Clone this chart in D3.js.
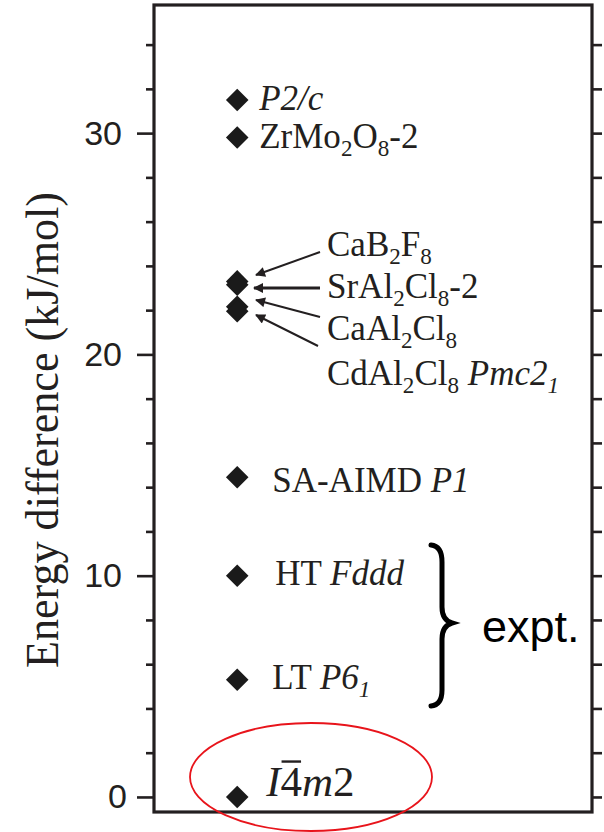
<!DOCTYPE html>
<html>
<head>
<meta charset="utf-8">
<script src="https://cdn.jsdelivr.net/npm/d3@7"></script>
<style>
  html, body { margin: 0; padding: 0; background: #fff; }
  svg { display: block; }
</style>
</head>
<body>
<svg id="chart" width="604" height="832"></svg>
<script>
// Relative energies of candidate structures (kJ/mol)
const structures = ["P2/c", "ZrMo2O8-2", "CaB2F8", "SrAl2Cl8-2", "CaAl2Cl8",
                    "CdAl2Cl8 Pmc21", "SA-AIMD P1", "HT Fddd", "LT P61", "I-4m2"];
const energies   = [31.5, 29.8, 23.3, 23.15, 22.15, 21.95, 14.45, 10.0, 5.3, 0];

// Axis ticks
const majorTicks = [0, 10, 20, 30];
const minorTicks = [2, 4, 6, 8, 12, 14, 16, 18, 22, 24, 26, 28, 32, 34];
const tickLabels = ["0", "10", "20", "30"];

// Label text, split into runs: i = italic, s = subscript, bar = overline
const labelRuns = {
  "P2/c":          [{t: "P2/c", i: 1}],
  "ZrMo2O8-2":     [{t: "ZrMo"}, {t: "2", s: 1}, {t: "O"}, {t: "8", s: 1}, {t: "-2"}],
  "CaB2F8":        [{t: "CaB"}, {t: "2", s: 1}, {t: "F"}, {t: "8", s: 1}],
  "SrAl2Cl8-2":    [{t: "SrAl"}, {t: "2", s: 1}, {t: "Cl"}, {t: "8", s: 1}, {t: "-2"}],
  "CaAl2Cl8":      [{t: "CaAl"}, {t: "2", s: 1}, {t: "Cl"}, {t: "8", s: 1}],
  "CdAl2Cl8 Pmc21":[{t: "CdAl"}, {t: "2", s: 1}, {t: "Cl"}, {t: "8", s: 1}, {t: " "}, {t: "Pmc2", i: 1}, {t: "1", i: 1, s: 1}],
  "SA-AIMD P1":    [{t: "SA-AIMD "}, {t: "P1", i: 1}],
  "HT Fddd":       [{t: "HT "}, {t: "Fddd", i: 1}],
  "LT P61":        [{t: "LT "}, {t: "P6", i: 1}, {t: "1", i: 1, s: 1}],
  "I-4m2":         [{t: "I", i: 1}, {t: "4", bar: 1}, {t: "m", i: 1}, {t: "2"}]
};

const SERIF = "'Liberation Serif', 'Times New Roman', Times, serif";
const SANS = "'Liberation Sans', Arial, Helvetica, sans-serif";

const svg = d3.select("#chart");
const ink = "#231f20";

// Plot frame
const frame = {left: 154, right: 592, top: 5, bottom: 812};
const y = d3.scaleLinear().domain([-0.68, 35.79]).range([frame.bottom, frame.top]);
const x = d3.scaleLinear().domain([0, 1]).range([frame.left, frame.right]);
const column = 0.19;   // horizontal slot of the markers

// Left axis: long major ticks with labels, short minor ticks
const leftMajor = d3.axisLeft(y).tickValues(majorTicks).tickSize(17).tickPadding(15)
  .tickFormat((d, i) => tickLabels[i]);
const leftMinor = d3.axisLeft(y).tickValues(minorTicks).tickSize(8).tickFormat("");
const rightAll = d3.axisRight(y).tickValues(majorTicks.concat(minorTicks)).tickSize(10).tickFormat("");

function styleAxis(g) {
  g.select(".domain").remove();
  g.selectAll(".tick line").attr("stroke", ink).attr("stroke-width", 2.6);
}

svg.append("g").attr("transform", `translate(${frame.left},0)`).call(leftMajor).call(styleAxis)
  .attr("font-family", SANS).attr("font-size", 34)
  .selectAll(".tick text")
  .attr("fill", ink)
  .attr("dx", d => d === 0 ? 5 : 0);
svg.append("g").attr("transform", `translate(${frame.left},0)`).call(leftMinor).call(styleAxis);
svg.append("g").attr("transform", `translate(${frame.right},0)`).call(rightAll).call(styleAxis);

svg.append("rect")
  .attr("x", frame.left).attr("y", frame.top)
  .attr("width", frame.right - frame.left).attr("height", frame.bottom - frame.top)
  .attr("fill", "none").attr("stroke", ink).attr("stroke-width", 3.2);

// Axis title
svg.append("text")
  .attr("transform", "translate(58,430) rotate(-90)")
  .attr("text-anchor", "middle")
  .style("font-family", SERIF).style("font-size", "47px")
  .attr("textLength", 476).attr("lengthAdjust", "spacingAndGlyphs")
  .attr("fill", ink)
  .text("Energy difference (kJ/mol)");

// Diamond markers
const data = structures.map((s, i) => ({name: s, e: energies[i]}));
svg.append("g").selectAll("path").data(data).join("path")
  .attr("d", d3.symbol(d3.symbolSquare, 255))
  .attr("transform", d => `translate(${x(column)},${y(d.e)}) rotate(45)`)
  .attr("fill", "#1a1a1a");

// Label placement: offset from the marker (dx, baseline dy) or fixed text column
const labelPos = {
  "P2/c":          {dx: 22, dy: 10},
  "ZrMo2O8-2":     {dx: 22, dy: 10},
  "CaB2F8":        {x: 327, yb: 256},
  "SrAl2Cl8-2":    {x: 327, yb: 298},
  "CaAl2Cl8":      {x: 327, yb: 340},
  "CdAl2Cl8 Pmc21":{x: 327, yb: 385},
  "SA-AIMD P1":    {dx: 35, dy: 15},
  "HT Fddd":       {dx: 38, dy: 9},
  "LT P61":        {dx: 35, dy: 9},
  "I-4m2":         {dx: 29, dy: -1, size: 43}
};

function drawLabel(d) {
  const p = labelPos[d.name];
  const tx = p.x !== undefined ? p.x : x(column) + p.dx;
  const ty = p.yb !== undefined ? p.yb : y(d.e) + p.dy;
  const size = p.size || 35;
  const t = svg.append("text")
    .style("font-family", SERIF)
    .attr("x", tx).attr("y", ty).attr("font-size", size).attr("fill", ink);
  let shifted = false;
  let charIndex = 0, barIndex = -1;
  labelRuns[d.name].forEach(r => {
    const ts = t.append("tspan").text(r.t);
    if (r.i) ts.attr("font-style", "italic");
    if (r.s && !shifted) { ts.attr("dy", size * 0.24); shifted = true; }
    else if (!r.s && shifted) { ts.attr("dy", -size * 0.24); shifted = false; }
    if (r.s) ts.attr("font-size", size * 0.66);
    if (r.bar) barIndex = charIndex;
    charIndex += r.t.length;
  });
  if (barIndex >= 0) {
    const node = t.node();
    const a = node.getStartPositionOfChar(barIndex);
    const b = node.getEndPositionOfChar(barIndex);
    svg.append("line")
      .attr("x1", a.x + 1).attr("x2", b.x - 1)
      .attr("y1", ty - size * 0.8).attr("y2", ty - size * 0.8)
      .attr("stroke", ink).attr("stroke-width", 2.4);
  }
}
data.forEach(drawLabel);

// Arrows from the clustered labels to their markers
svg.append("defs").append("marker")
  .attr("id", "head").attr("viewBox", "0 0 10 10").attr("refX", 9).attr("refY", 5)
  .attr("markerWidth", 13).attr("markerHeight", 10).attr("markerUnits", "userSpaceOnUse")
  .attr("orient", "auto")
  .append("path").attr("d", "M0,0 L10,5 L0,10 Z").attr("fill", ink);

const arrows = [
  {from: [320, 252], to: [256, 275], w: 2},
  {from: [320, 288], to: [254, 288], w: 2.8},
  {from: [320, 317], to: [256, 300], w: 2},
  {from: [318, 346], to: [256, 315], w: 2}
];
svg.append("g").selectAll("line").data(arrows).join("line")
  .attr("x1", d => d.from[0]).attr("y1", d => d.from[1])
  .attr("x2", d => d.to[0]).attr("y2", d => d.to[1])
  .attr("stroke", ink).attr("stroke-width", d => d.w)
  .attr("marker-end", "url(#head)");

// Brace grouping the experimental structures
svg.append("path")
  .attr("d", "M431,545 Q442,546 442,562 L442,607 Q442,620 452,623 Q442,626 442,639 L442,690 Q442,705 431,706")
  .attr("fill", "none").attr("stroke", "#000").attr("stroke-width", 5).attr("stroke-linecap", "round");

svg.append("text")
  .style("font-family", SANS)
  .attr("x", 482).attr("y", 642).attr("font-size", 45).attr("fill", "#000")
  .text("expt.");

// Highlight of the lowest-energy structure
svg.append("ellipse")
  .attr("cx", 311).attr("cy", 777).attr("rx", 121).attr("ry", 54)
  .attr("fill", "none").attr("stroke", "#e8141b").attr("stroke-width", 1.8);
</script>
</body>
</html>
